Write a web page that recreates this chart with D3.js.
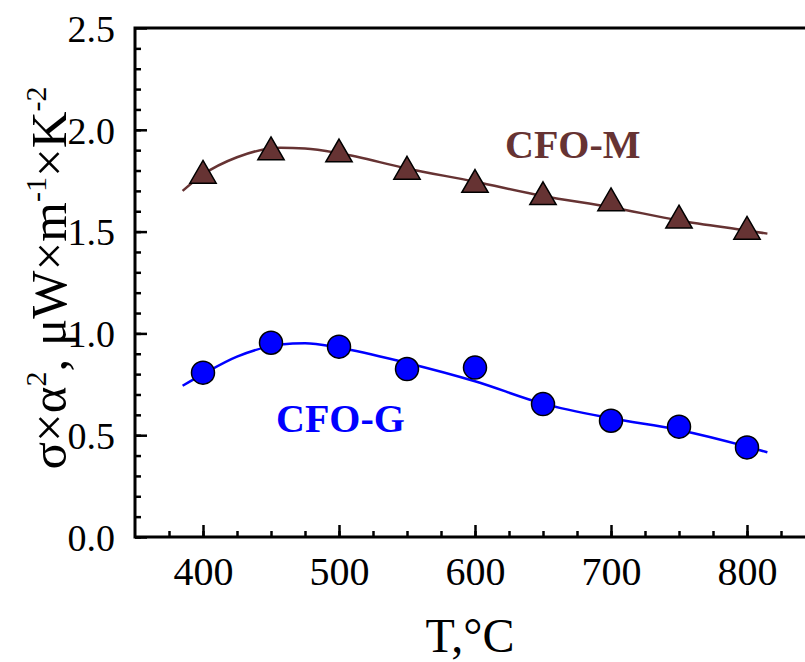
<!DOCTYPE html>
<html>
<head>
<meta charset="utf-8">
<script src="https://cdn.jsdelivr.net/npm/d3@7"></script>
<style>
  body { margin: 0; background: #fff; }
  svg text { font-family: "Liberation Serif", "Times New Roman", Times, serif !important; }
</style>
</head>
<body>
<svg id="chart"></svg>
<script>
const width = 805, height = 662;

// measured points
const temps = [400, 450, 500, 550, 600, 650, 700, 750, 800];
const cfoM = [1.775, 1.89, 1.88, 1.795, 1.73, 1.67, 1.64, 1.555, 1.50];
const cfoG = [0.807, 0.954, 0.935, 0.825, 0.832, 0.653, 0.571, 0.542, 0.44];

// fitted curves
const fitT = [385, 400, 425, 457, 475, 500, 550, 600, 650, 700, 750, 800, 815];
const fitM = [1.70, 1.78, 1.865, 1.912, 1.908, 1.885, 1.81, 1.745, 1.675, 1.62, 1.555, 1.505, 1.49];
const fitG = [0.743, 0.80, 0.886, 0.945, 0.952, 0.93, 0.855, 0.765, 0.655, 0.583, 0.526, 0.444, 0.416];

const xTicks = [400, 500, 600, 700, 800];
const yTicks = [0.0, 0.5, 1.0, 1.5, 2.0, 2.5];

const colM = "#663333";
const colG = "#0000ff";
const serif = "Liberation Serif";

const svg = d3.select("#chart")
  .attr("width", width)
  .attr("height", height);

const xScale = d3.scaleLinear().domain([350, 850]).range([135, 815]);
const yScale = d3.scaleLinear().domain([0, 2.5]).range([537, 28]);

// minor ticks
svg.append("g")
  .attr("transform", "translate(0,537)")
  .call(d3.axisTop(xScale).tickValues(d3.range(375, 850, 25)).tickSize(6).tickFormat(""))
  .call(g => g.select(".domain").remove())
  .selectAll("line").attr("stroke-width", 2.5);
svg.append("g")
  .attr("transform", "translate(135,0)")
  .call(d3.axisRight(yScale).tickValues(d3.range(0, 25).map(i => i / 10)).tickSize(6).tickFormat(""))
  .call(g => g.select(".domain").remove())
  .selectAll("line").attr("stroke-width", 2.5);

// x axis with major ticks
const xAxis = svg.append("g")
  .attr("transform", "translate(0,537)")
  .call(d3.axisTop(xScale).tickValues(xTicks).tickSize(12).tickFormat(d3.format("d")));
xAxis.attr("font-family", serif);
xAxis.select(".domain").remove();
xAxis.selectAll("line").attr("stroke-width", 2.5);
xAxis.selectAll("text")
  .attr("y", 48)
  .attr("dy", 0)
  .attr("font-size", 40);

// y axis with major ticks
const yAxis = svg.append("g")
  .attr("transform", "translate(135,0)")
  .call(d3.axisRight(yScale).tickValues(yTicks).tickSize(12).tickFormat(d3.format(".1f")));
yAxis.attr("font-family", serif);
yAxis.select(".domain").remove();
yAxis.selectAll("line").attr("stroke-width", 2.5);
yAxis.selectAll("text")
  .attr("x", -20)
  .attr("text-anchor", "end")
  .attr("dy", "0.35em")
  .attr("font-size", 38);

// frame
svg.append("path")
  .attr("d", "M" + (width + 5) + ",28H135V537H" + (width + 5))
  .attr("fill", "none")
  .attr("stroke", "#000")
  .attr("stroke-width", 3);

// curves
const line = d3.line()
  .x(d => xScale(d[0]))
  .y(d => yScale(d[1]))
  .curve(d3.curveMonotoneX);

svg.append("path")
  .datum(fitT.map((t, i) => [t, fitM[i]]))
  .attr("d", line)
  .attr("fill", "none")
  .attr("stroke", colM)
  .attr("stroke-width", 2.5);

svg.append("path")
  .datum(fitT.map((t, i) => [t, fitG[i]]))
  .attr("d", line)
  .attr("fill", "none")
  .attr("stroke", colG)
  .attr("stroke-width", 2.5);

// markers
const tri = d3.symbol().type(d3.symbolTriangle).size(300);
svg.append("g").selectAll("path")
  .data(temps.map((t, i) => [t, cfoM[i]]))
  .join("path")
  .attr("d", tri)
  .attr("transform", d => "translate(" + xScale(d[0]) + "," + yScale(d[1]) + ")")
  .attr("fill", colM)
  .attr("stroke", "#000")
  .attr("stroke-width", 1.5);

svg.append("g").selectAll("circle")
  .data(temps.map((t, i) => [t, cfoG[i]]))
  .join("circle")
  .attr("cx", d => xScale(d[0]))
  .attr("cy", d => yScale(d[1]))
  .attr("r", 11.5)
  .attr("fill", colG)
  .attr("stroke", "#000")
  .attr("stroke-width", 1.5);

// series labels
svg.append("text")
  .attr("x", 505).attr("y", 158)
  .attr("font-size", 40).attr("font-weight", "bold")
  .attr("fill", colM)
  .text("CFO-M");
svg.append("text")
  .attr("x", 276).attr("y", 432)
  .attr("font-size", 40).attr("font-weight", "bold")
  .attr("fill", colG)
  .text("CFO-G");

// axis titles
svg.append("text")
  .attr("x", 470).attr("y", 652)
  .attr("text-anchor", "middle")
  .attr("font-size", 48)
  .text("T,°C");

const yTitle = svg.append("text")
  .attr("transform", "translate(66,278) rotate(-90)")
  .attr("text-anchor", "middle")
  .attr("font-size", 51);
yTitle.append("tspan").text("σ×α");
yTitle.append("tspan").attr("font-size", 30).attr("dy", -20).text("2");
yTitle.append("tspan").attr("dy", 20).text(", μW×m");
yTitle.append("tspan").attr("font-size", 30).attr("dy", -20).text("-1");
yTitle.append("tspan").attr("dy", 20).text("×K");
yTitle.append("tspan").attr("font-size", 30).attr("dy", -20).text("-2");
</script>
</body>
</html>
